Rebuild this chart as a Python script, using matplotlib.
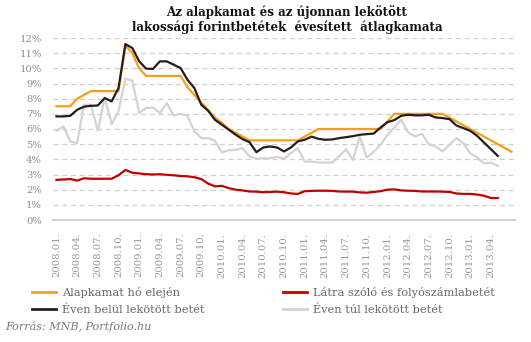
import matplotlib
matplotlib.use("Agg")
import matplotlib.pyplot as plt
from matplotlib.lines import Line2D

# Monthly series, 2008.01 onwards (percent)
months = [f"{y}.{m:02d}." for y in range(2008, 2014) for m in range(1, 13)][:67]

alapkamat = [7.5, 7.5, 7.5, 8.0, 8.25, 8.5, 8.5, 8.5, 8.5, 8.5,
             11.5, 11.0, 10.0, 9.5, 9.5, 9.5, 9.5, 9.5, 9.5,
             8.75, 8.25, 7.75, 7.25, 6.75, 6.4, 6.0, 5.75, 5.5,
             5.25, 5.25, 5.25, 5.25, 5.25, 5.25, 5.25, 5.25,
             5.5, 5.75,
             6.0, 6.0, 6.0, 6.0, 6.0, 6.0, 6.0, 6.0, 6.0, 6.0,
             6.5,
             7.0, 7.0, 7.0, 7.0, 7.0, 7.0, 7.0, 7.0,
             6.75, 6.5, 6.25, 6.0, 5.75, 5.5, 5.25, 5.0, 4.75, 4.5]

latra = [2.65, 2.67, 2.7, 2.6, 2.75, 2.72, 2.72, 2.72, 2.72, 2.95, 3.3, 3.12, 3.07,
         3.02, 3.0, 3.02, 2.98, 2.95, 2.9, 2.88, 2.82, 2.7, 2.4, 2.22, 2.25, 2.1,
         2.0, 1.95, 1.88, 1.87, 1.83, 1.85, 1.87, 1.83, 1.75, 1.72, 1.9, 1.92, 1.93,
         1.93, 1.92, 1.88, 1.87, 1.87, 1.82, 1.8, 1.85, 1.9, 2.0, 2.02, 1.95, 1.93,
         1.92, 1.88, 1.88, 1.88, 1.87, 1.85, 1.75, 1.72, 1.72, 1.68, 1.6, 1.45, 1.45]

even_belul = [6.83, 6.83, 6.87, 7.27, 7.47, 7.53, 7.55, 8.04, 7.82, 8.7, 11.6, 11.34, 10.46,
              9.98, 9.96, 10.46, 10.46, 10.24, 10.02, 9.25, 8.7, 7.6, 7.2, 6.6, 6.28, 5.95,
              5.62, 5.33, 5.13, 4.47, 4.78, 4.85, 4.78, 4.52, 4.78, 5.18, 5.29, 5.5, 5.35,
              5.29, 5.31, 5.4, 5.46, 5.53, 5.62, 5.66, 5.7, 6.1, 6.45, 6.59, 6.87, 6.94,
              6.9, 6.9, 6.94, 6.76, 6.72, 6.65, 6.23, 6.06, 5.88, 5.55, 5.11, 4.67, 4.23]

even_tul = [5.88, 6.17, 5.18, 5.07, 7.6, 7.6, 5.88, 8.08, 6.32, 7.16, 9.32, 9.19, 7.05,
            7.38, 7.42, 7.05, 7.71, 6.89, 7.0, 6.87, 5.84, 5.4, 5.4, 5.22, 4.45, 4.6,
            4.63, 4.74, 4.19, 4.03, 4.07, 4.07, 4.16, 4.03, 4.41, 4.74, 3.85, 3.85, 3.79,
            3.79, 3.79, 4.2, 4.67, 3.96, 5.51, 4.12, 4.5, 4.96, 5.6, 6.1, 6.6, 5.77,
            5.5, 5.68, 5.0, 4.85, 4.52, 4.96, 5.4, 5.07, 4.4, 4.12, 3.74, 3.79, 3.57]

y_ticks = list(range(0, 13))

C_ORANGE = "#F5A01A"
C_RED = "#C00000"
C_BLACK = "#2A1A1F"
C_GRAY = "#D3D3D3"
C_TEXT = "#8C8C8C"
C_LEG = "#666666"

SERIF = ["DejaVu Serif"]

fig = plt.figure(figsize=(5.31, 3.42), dpi=100)
ax = fig.add_axes([53 / 531, 1 - 220 / 342, (515 - 53) / 531, (220 - 38) / 342])

lw = 1.6
ax.plot(range(len(even_tul)), even_tul, color=C_GRAY, lw=lw, zorder=2)
ax.plot(range(len(latra)), latra, color=C_RED, lw=lw, zorder=3)
ax.plot(range(len(alapkamat)), alapkamat, color=C_ORANGE, lw=lw, zorder=4)
ax.plot(range(len(even_belul)), even_belul, color=C_BLACK, lw=lw, zorder=5)

ax.set_xlim(-0.5, len(months) - 0.5)
ax.set_ylim(0, 12)
ax.set_yticks(y_ticks)
ax.set_yticklabels([f"{v}%" for v in y_ticks], fontfamily=SERIF, fontsize=7.2, color=C_TEXT)
ax.set_xticks(range(0, 64, 3))
ax.set_xticklabels([months[i] for i in range(0, 64, 3)], rotation=90,
                   fontfamily=SERIF, fontsize=7.3, color="#999999")
ax.tick_params(length=0)
ax.tick_params(axis="x", pad=9)
ax.tick_params(axis="y", pad=8)

for v in y_ticks[1:]:
    ax.axhline(v, color="#CFCFCF", lw=0.9, ls=(0, (4, 3)), zorder=1)
for s in ["top", "right", "left"]:
    ax.spines[s].set_visible(False)
ax.spines["bottom"].set_color("#C8C8C8")
ax.spines["bottom"].set_linewidth(1.2)

fig.text(287 / 531, 1 - 5 / 342,
         "Az alapkamat és az újonnan lekötött\nlakossági forintbetétek  évesített  átlagkamata",
         ha="center", va="top", fontfamily=SERIF, fontweight="bold", fontsize=8.6,
         color="#111111", linespacing=1.15)

leg_kw = dict(loc="upper left", frameon=False, ncol=1, handlelength=2.1,
              handletextpad=0.55, labelspacing=0.6, borderpad=0, borderaxespad=0,
              prop={"family": SERIF, "size": 8.2}, labelcolor=C_LEG)
h1 = [Line2D([], [], color=C_ORANGE, lw=2), Line2D([], [], color=C_BLACK, lw=2)]
h2 = [Line2D([], [], color=C_RED, lw=2), Line2D([], [], color=C_GRAY, lw=2)]
fig.legend(h1, ["Alapkamat hó elején", "Éven belül lekötött betét"],
           bbox_to_anchor=(32 / 531, 1 - 287 / 342), **leg_kw)
fig.legend(h2, ["Látra szóló és folyószámlabetét", "Éven túl lekötött betét"],
           bbox_to_anchor=(283 / 531, 1 - 287 / 342), **leg_kw)

fig.text(5 / 531, 1 - 327 / 342, "Forrás: MNB, Portfolio.hu", ha="left", va="center",
         fontfamily=SERIF, fontstyle="italic", fontsize=8, color="#7A7A7A")

fig.savefig("out.png", dpi=100)
